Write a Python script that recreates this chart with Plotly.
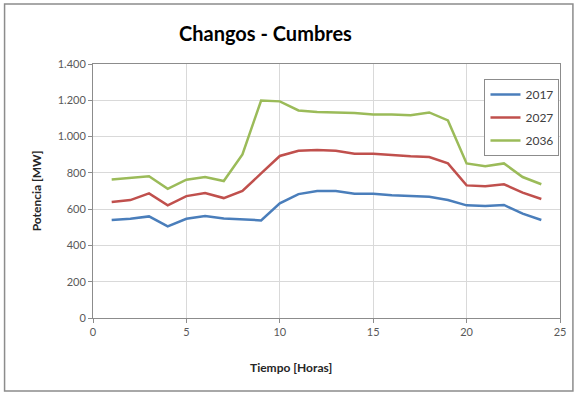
import plotly.graph_objects as go

hours = list(range(1, 25))
s2017 = [540, 547, 560, 505, 547, 562, 549, 542, 538, 632, 683, 700,
         700, 685, 685, 676, 672, 668, 650, 621, 617, 623, 575, 540]
s2027 = [639, 650, 687, 621, 672, 689, 661, 700, 797, 893, 922, 926,
         922, 905, 905, 896, 891, 887, 852, 731, 726, 737, 691, 656]
s2036 = [764, 773, 781, 712, 762, 777, 755, 902, 1199, 1194, 1144, 1135,
         1133, 1130, 1122, 1122, 1117, 1133, 1089, 852, 837, 852, 777, 737]
series_names = ["2017", "2027", "2036"]
colors = ["#4A7EBB", "#C0504D", "#9BBB59"]

W, H = 578, 393
L, R, T, B = 93, 15, 64, 75
pw, ph = W - L - R, H - T - B

def px(x):
    return (x - L) / pw

def py(y):
    return (H - B - y) / ph

FONT = "Lato"
fig = go.Figure()
for i, (name, vals) in enumerate(zip(series_names, [s2017, s2027, s2036])):
    fig.add_trace(go.Scatter(x=hours, y=vals, mode="lines", name=name,
                             legendgroup=name,
                             line=dict(color=colors[i], width=2.5)))

axis_common = dict(showline=True, linecolor="#8C8C8C", linewidth=1, mirror=True,
                   showgrid=True, gridcolor="#D9D9D9", gridwidth=1,
                   ticks="outside", ticklen=4, tickcolor="#8C8C8C",
                   tickfont=dict(family=FONT, size=11, color="#595959"),
                   zeroline=False)

fig.update_layout(
    width=W, height=H,
    margin=dict(l=L, r=R, t=T, b=B),
    paper_bgcolor="white", plot_bgcolor="white",
    separators=",.",
    font=dict(family=FONT),
    showlegend=True,
    legend=dict(x=px(487), y=py(79), xanchor="left", yanchor="top",
                bordercolor="#8C8C8C", borderwidth=1, bgcolor="white",
                font=dict(family=FONT, size=12, color="#404040"),
                traceorder="grouped", tracegroupgap=4, itemwidth=30),
    xaxis=dict(range=[0, 25], tickvals=[0, 5, 10, 15, 20, 25], **axis_common),
    yaxis=dict(range=[0, 1400], tickvals=[0, 200, 400, 600, 800, 1000, 1200, 1400],
               separatethousands=True, **axis_common),
    shapes=[dict(type="rect", xref="paper", yref="paper",
                 x0=px(4), x1=px(576), y0=py(391), y1=py(4),
                 line=dict(color="#8C8C8C", width=1.5))],
    annotations=[
        dict(text="<b>Changos - Cumbres</b>", xref="paper", yref="paper",
             x=px(267), y=py(33), xanchor="center", yanchor="middle",
             showarrow=False, font=dict(family=FONT, size=20, color="black")),
        dict(text="<b>Tiempo [Horas]</b>", xref="paper", yref="paper",
             x=px(292), y=py(367), xanchor="center", yanchor="middle",
             showarrow=False, font=dict(family=FONT, size=12, color="#262626")),
        dict(text="<b>Potencia [MW]</b>", xref="paper", yref="paper",
             x=px(36), y=py(191), xanchor="center", yanchor="middle",
             textangle=-90,
             showarrow=False, font=dict(family=FONT, size=12, color="#262626")),
    ],
)

fig.write_html("out.html", config={"displayModeBar": False},
               post_script="document.body.style.margin='0';")
